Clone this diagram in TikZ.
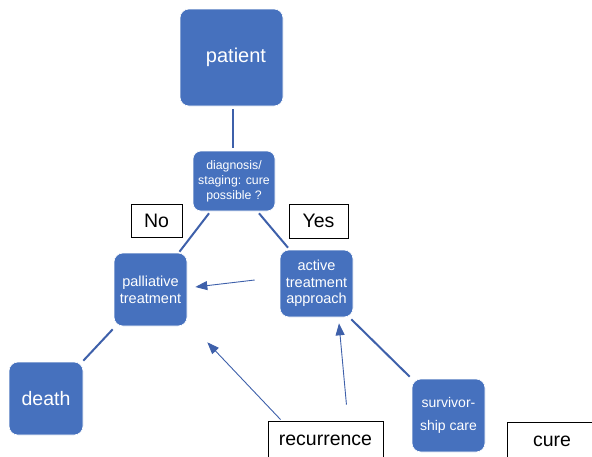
\documentclass[tikz,border=0pt]{standalone}
\usepackage{fontspec}
\setmainfont{Liberation Sans}
\usetikzlibrary{arrows.meta}
\definecolor{boxblue}{RGB}{70,113,190}
\definecolor{linkblue}{RGB}{62,96,170}
\tikzset{
  bluebox/.style={rectangle, rounded corners=9pt, fill=boxblue, draw=white, line width=0.6pt,
    text=white, align=center, inner sep=0pt},
  labelbox/.style={rectangle, draw=black, line width=0.9pt, fill=white, inner sep=0pt,
    font=\fontsize{19.5}{22}\selectfont},
  link/.style={draw=linkblue, line width=2pt},
  pointer/.style={draw=linkblue, line width=0.9pt, -{Triangle[length=12pt,width=9pt]}},
}
\begin{document}
\begin{tikzpicture}[x=1pt, y=-1pt]
  \useasboundingbox (0,0) rectangle (592,456);
  \clip (0,0) rectangle (592,456);

  % stage boxes
  \node[bluebox, minimum width=103pt, minimum height=97pt, font=\fontsize{20}{22}\selectfont]
    (patient) at (231.5,57.5) {\raisebox{3pt}{\hspace*{9pt}patient}};
  \node[bluebox, rounded corners=8pt, minimum width=82pt, minimum height=60pt, font=\fontsize{12.3}{15}\selectfont]
    (diag) at (234,181) {diagnosis/\\staging: cure\\possible ?};
  \node[bluebox, minimum width=73pt, minimum height=73pt, font=\fontsize{14.5}{16.7}\selectfont]
    (pall) at (150.5,289.5) {palliative\\treatment};
  \node[bluebox, minimum width=73pt, minimum height=67pt, font=\fontsize{14.5}{16.7}\selectfont]
    (act) at (316.5,283.5) {active\\treatment\\approach};
  \node[bluebox, minimum width=74pt, minimum height=73pt, font=\fontsize{19.5}{22}\selectfont]
    (death) at (46,398.5) {death};
  \node[bluebox, minimum width=73pt, minimum height=73pt, font=\fontsize{14}{23}\selectfont]
    (surv) at (448.5,415.5) {survivor-\\ship care};

  % outcome labels
  \node[labelbox, minimum width=51pt, minimum height=33pt] (no) at (156.5,220.5) {No};
  \node[labelbox, minimum width=59pt, minimum height=34pt] (yes) at (318.5,221) {Yes};
  \node[labelbox, minimum width=115pt, minimum height=38pt] (rec) at (325.5,440) {recurrence};
  \node[labelbox, minimum width=90pt, minimum height=38pt] (cure) at (552,441) {cure};

  % pathway links
  \draw[link] ([xshift=1.5pt,yshift=-3pt]patient.south) -- ([xshift=-1pt,yshift=3pt]diag.north);
  \draw[link] ([xshift=-25pt,yshift=-2pt]diag.south) -- ([xshift=29pt,yshift=1pt]pall.north);
  \draw[link] ([xshift=25pt,yshift=-2pt]diag.south) -- ([xshift=-28.5pt,yshift=2pt]act.north);
  \draw[link] ([xshift=-1pt,yshift=-3pt]pall.south west) -- ([yshift=1pt]death.north east);
  \draw[link] ([xshift=-2pt,yshift=-2pt]act.south east) -- ([xshift=-2pt,yshift=2pt]surv.north west);

  % feedback arrows
  \draw[pointer] ([xshift=-25pt,yshift=3.5pt]act.west) -- ([xshift=8pt,yshift=2.5pt]pall.east);
  \draw[pointer] ([xshift=13pt,yshift=1pt]rec.north west) -- ([xshift=20pt,yshift=-16pt]pall.south east);
  \draw[pointer] ([xshift=-37pt,yshift=16pt]rec.north east) -- ([xshift=22.5pt,yshift=-6pt]act.south);
\end{tikzpicture}
\end{document}
